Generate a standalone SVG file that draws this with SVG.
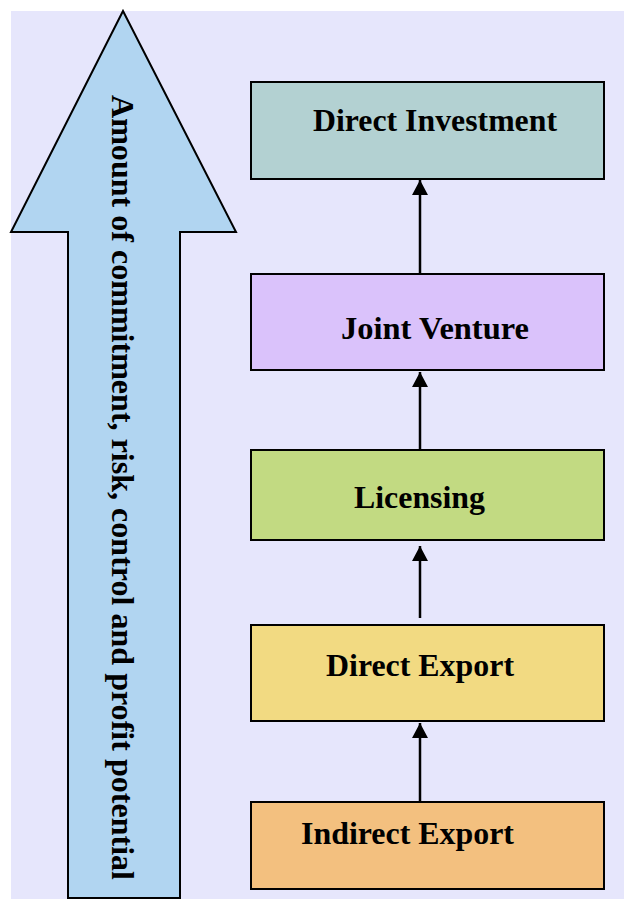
<svg xmlns="http://www.w3.org/2000/svg" width="624" height="899" viewBox="0 0 624 899">
<style>
.box{stroke:#000;stroke-width:2}
.lbl{font-family:"Liberation Serif","Times New Roman",serif;font-weight:bold;font-size:31px;fill:#000}
.con{stroke:#000;stroke-width:2.5;fill:none;marker-end:url(#ah)}
</style>
<defs>
<marker id="ah" markerUnits="userSpaceOnUse" markerWidth="16" markerHeight="16" viewBox="0 0 16 16" refX="15" refY="8" orient="auto">
<path d="M0,0 L15,8 L0,16 Z" fill="#000"/>
</marker>
</defs>
<rect x="11" y="11" width="613" height="888" fill="#E6E6FC"/>
<g id="big-arrow">
<polygon points="123,11 236,232 180,232 180,898 68,898 68,232 11,232" fill="#B1D5F1" stroke="#000" stroke-width="2"/>
<text class="lbl" transform="translate(112,95) rotate(90)" font-size="33.5" textLength="785" lengthAdjust="spacingAndGlyphs">Amount of commitment, risk, control and profit potential</text>
</g>
<g id="direct-investment">
<rect class="box" x="251" y="82" width="353" height="97" fill="#B3D1D2"/>
<text class="lbl" x="313" y="131" textLength="244" lengthAdjust="spacingAndGlyphs">Direct Investment</text>
</g>
<g id="joint-venture">
<rect class="box" x="251" y="274" width="353" height="96" fill="#DAC2FB"/>
<text class="lbl" x="341" y="339" textLength="188" lengthAdjust="spacingAndGlyphs">Joint Venture</text>
</g>
<g id="licensing">
<rect class="box" x="251" y="450" width="353" height="90" fill="#C2DA82"/>
<text class="lbl" x="354" y="508" textLength="131" lengthAdjust="spacingAndGlyphs">Licensing</text>
</g>
<g id="direct-export">
<rect class="box" x="251" y="625" width="353" height="96" fill="#F2DA82"/>
<text class="lbl" x="326" y="676" textLength="188" lengthAdjust="spacingAndGlyphs">Direct Export</text>
</g>
<g id="indirect-export">
<rect class="box" x="251" y="802" width="353" height="87" fill="#F3C07F"/>
<text class="lbl" x="301" y="844" textLength="213" lengthAdjust="spacingAndGlyphs">Indirect Export</text>
</g>
<g id="connectors">
<line class="con" x1="420" y1="274" x2="420" y2="180"/>
<line class="con" x1="420" y1="450" x2="420" y2="372"/>
<line class="con" x1="420" y1="618" x2="420" y2="546"/>
<line class="con" x1="420" y1="802" x2="420" y2="723"/>
</g>
</svg>
